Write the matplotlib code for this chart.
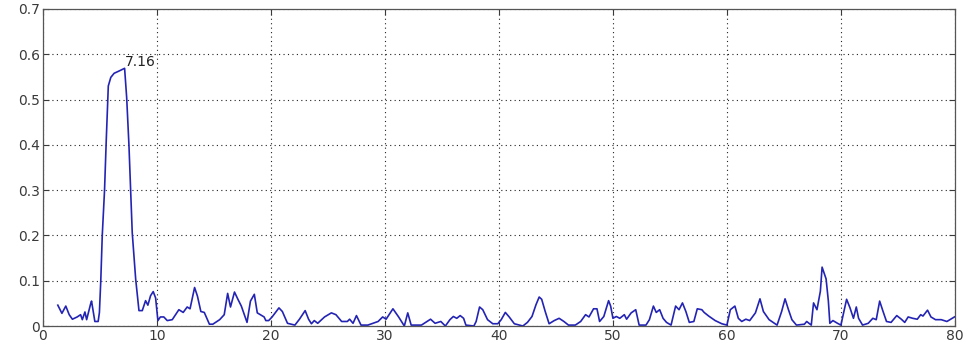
import matplotlib
matplotlib.use("Agg")
import matplotlib.pyplot as plt

# spectrum (frequency, amplitude)
freq = [
    1.3, 1.66, 2.0, 2.3, 2.58, 3.0, 3.3, 3.45, 3.68, 3.83,
    4.17, 4.26, 4.55, 4.84, 4.95, 5.07, 5.2, 5.4, 5.55, 5.73,
    5.95, 6.24, 6.67, 7.16, 7.34, 7.54, 7.83, 8.13, 8.42, 8.71,
    9.0, 9.2, 9.44, 9.67, 9.88, 10.08, 10.3, 10.6, 10.9, 11.34,
    11.92, 12.3, 12.65, 12.9, 13.3, 13.55, 13.85, 14.15, 14.6, 14.9,
    15.5, 15.9, 16.2, 16.45, 16.8, 17.1, 17.4, 17.9, 18.2, 18.54,
    18.8, 19.4, 19.55, 19.8, 20.1, 20.7, 21.0, 21.45, 22.1, 22.5,
    23.0, 23.3, 23.55, 23.8, 24.1, 24.7, 25.3, 25.7, 26.2, 26.7,
    26.9, 27.2, 27.5, 27.9, 28.5, 29.4, 29.8, 30.1, 30.7, 31.2,
    31.7, 32.0, 32.3, 33.2, 34.0, 34.4, 34.9, 35.3, 35.7, 36.0,
    36.3, 36.6, 36.9, 37.1, 37.8, 38.0, 38.3, 38.58, 39.0, 39.46,
    39.9, 40.2, 40.56, 40.9, 41.35, 42.1, 42.5, 42.9, 43.25, 43.53,
    43.75, 44.06, 44.4, 44.85, 45.28, 45.7, 46.1, 46.7, 47.17, 47.6,
    47.9, 48.3, 48.6, 48.83, 49.2, 49.62, 49.8, 50.0, 50.3, 50.6,
    51.0, 51.2, 51.6, 52.0, 52.3, 52.9, 53.2, 53.55, 53.8, 54.1,
    54.4, 54.7, 55.1, 55.5, 55.8, 56.1, 56.4, 56.7, 57.1, 57.4,
    57.8, 58.0, 58.4, 58.97, 59.55, 60.0, 60.3, 60.7, 61.0, 61.3,
    61.66, 62.0, 62.5, 62.9, 63.2, 63.7, 64.4, 64.8, 65.1, 65.4,
    65.7, 66.1, 66.8, 67.0, 67.4, 67.6, 67.9, 68.2, 68.35, 68.55,
    68.7, 68.9, 69.03, 69.3, 69.7, 70.0, 70.5, 70.8, 71.1, 71.35,
    71.55, 71.9, 72.4, 72.8, 73.1, 73.4, 73.7, 74.0, 74.4, 74.9,
    75.3, 75.6, 75.9, 76.3, 76.7, 77.0, 77.2, 77.6, 77.9, 78.3,
    78.8, 79.3, 79.96,
]
amp = [
    0.046, 0.028, 0.044, 0.025, 0.015, 0.02, 0.025, 0.014, 0.031, 0.014,
    0.048, 0.055, 0.01, 0.01, 0.03, 0.10, 0.2, 0.3, 0.41, 0.53,
    0.549, 0.558, 0.563, 0.569, 0.505, 0.40, 0.206, 0.104, 0.034, 0.034,
    0.056, 0.046, 0.067, 0.076, 0.062, 0.012, 0.02, 0.02, 0.012, 0.014,
    0.036, 0.03, 0.042, 0.038, 0.085, 0.066, 0.032, 0.03, 0.004, 0.004,
    0.014, 0.025, 0.072, 0.042, 0.075, 0.059, 0.044, 0.008, 0.055, 0.07,
    0.029, 0.02, 0.012, 0.012, 0.02, 0.04, 0.032, 0.006, 0.002, 0.015,
    0.034, 0.015, 0.005, 0.012, 0.006, 0.02, 0.029, 0.025, 0.01, 0.01,
    0.015, 0.006, 0.023, 0.002, 0.002, 0.01, 0.02, 0.015, 0.038, 0.02,
    0.0, 0.029, 0.002, 0.002, 0.015, 0.006, 0.01, 0.0, 0.014, 0.021,
    0.017, 0.023, 0.017, 0.002, 0.0, 0.01, 0.042, 0.036, 0.014, 0.005,
    0.005, 0.014, 0.03, 0.02, 0.005, 0.0, 0.008, 0.021, 0.047, 0.064,
    0.059, 0.032, 0.005, 0.012, 0.017, 0.01, 0.002, 0.002, 0.01, 0.025,
    0.02, 0.038, 0.038, 0.01, 0.021, 0.056, 0.044, 0.017, 0.021, 0.017,
    0.025, 0.015, 0.029, 0.036, 0.002, 0.002, 0.014, 0.044, 0.03, 0.036,
    0.017, 0.008, 0.002, 0.044, 0.036, 0.051, 0.032, 0.008, 0.01, 0.038,
    0.036, 0.03, 0.022, 0.012, 0.005, 0.002, 0.036, 0.044, 0.017, 0.01,
    0.015, 0.012, 0.029, 0.06, 0.032, 0.014, 0.002, 0.032, 0.06, 0.036,
    0.014, 0.002, 0.004, 0.01, 0.002, 0.051, 0.036, 0.077, 0.13, 0.115,
    0.104, 0.055, 0.006, 0.012, 0.006, 0.002, 0.059, 0.04, 0.017, 0.042,
    0.017, 0.002, 0.006, 0.017, 0.014, 0.055, 0.032, 0.01, 0.008, 0.023,
    0.015, 0.008, 0.02, 0.017, 0.015, 0.025, 0.022, 0.035, 0.02, 0.014,
    0.014, 0.01, 0.02,
]
assert len(freq) == len(amp)

peak_x, peak_y = 7.16, 0.569
xticks = [0, 10, 20, 30, 40, 50, 60, 70, 80]
yticks = [0, 0.1, 0.2, 0.3, 0.4, 0.5, 0.6, 0.7]
ytick_labels = ["0", "0.1", "0.2", "0.3", "0.4", "0.5", "0.6", "0.7"]

fig = plt.figure(figsize=(9.66, 3.48), dpi=100)
ax = fig.add_axes([0.0445, 0.0632, 0.944, 0.911])

ax.plot(freq, amp, color="#2424b4", linewidth=1.2)
ax.text(peak_x + 0.05, peak_y - 0.002, "7.16", fontsize=10, color="#222222",
        ha="left", va="bottom")

ax.set_xlim(0, 80)
ax.set_ylim(0, 0.7)
ax.set_xticks(xticks)
ax.set_xticklabels([str(t) for t in xticks])
ax.set_yticks(yticks)
ax.set_yticklabels(ytick_labels)
ax.grid(True, linestyle=(0, (1, 3)), color="#222222", linewidth=0.8)
ax.tick_params(direction="in", length=4, width=0.8, labelsize=10,
               colors="#3a3a3a", top=True, right=True, pad=2)
for s in ax.spines.values():
    s.set_color("#555555")
    s.set_linewidth(0.9)

fig.savefig("out.png", dpi=100)
